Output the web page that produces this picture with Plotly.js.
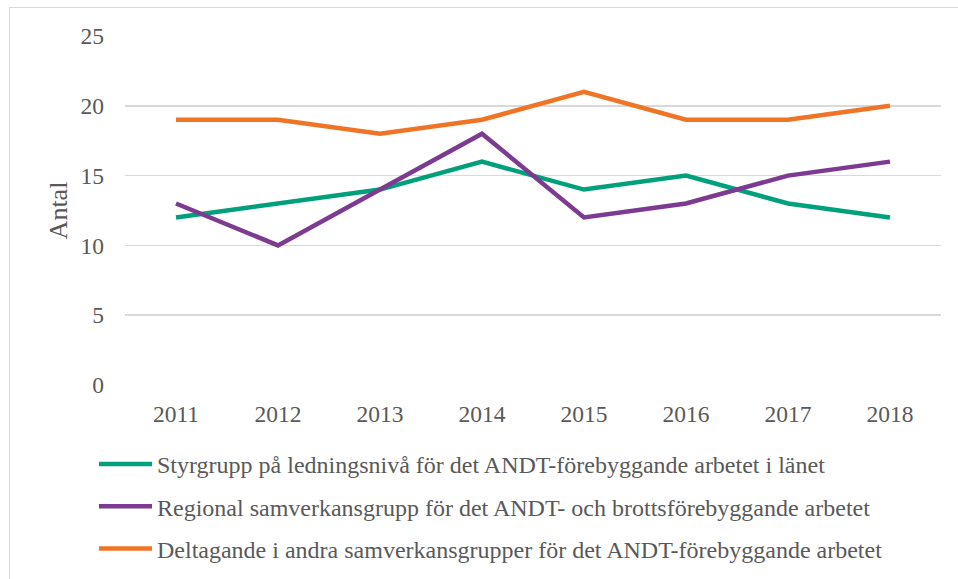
<!DOCTYPE html>
<html><head><meta charset="utf-8">
<script src="https://cdn.plot.ly/plotly-3.0.1.min.js"></script>
<style>
html,body{margin:0;padding:0;background:#fff;}
#wrap{position:relative;width:958px;height:579px;overflow:hidden;}
#frame{position:absolute;left:9px;top:7px;width:1000px;height:700px;border-left:1px solid #d9d9d9;border-top:1px solid #d9d9d9;pointer-events:none;}
#chart{position:absolute;left:0;top:0;width:958px;height:579px;}
</style></head>
<body><div id="wrap"><div id="chart"></div><div id="frame"></div></div>
<script>
const years = ['2011','2012','2013','2014','2015','2016','2017','2018'];
const styrgrupp = [12,13,14,16,14,15,13,12];
const regional = [13,10,14,18,12,13,15,16];
const deltagande = [19,19,18,19,21,19,19,20];
const names = [
  'Styrgrupp på ledningsnivå för det ANDT-förebyggande arbetet i länet',
  'Regional samverkansgrupp för det ANDT- och brottsförebyggande arbetet',
  'Deltagande i andra samverkansgrupper för det ANDT-förebyggande arbetet'
];
const colors = ['#00A07D','#7D3A91','#F07426'];
const series = [styrgrupp, regional, deltagande];
const fam = 'Liberation Serif, Times New Roman, serif';
const font = {family:fam, size:23.5, color:'#595959'};
const traces = series.map((s,i)=>({
  x: years, y: s, type:'scatter', mode:'lines', name:names[i], legendgroup:'g'+i,
  line:{color:colors[i], width:4.5}, hoverinfo:'skip'
}));
const layout = {
  width:958, height:579,
  margin:{l:125, r:17, t:36, b:194},
  paper_bgcolor:'#fff', plot_bgcolor:'#fff',
  font: font,
  showlegend:true,
  legend:{orientation:'v', xref:'paper', yref:'container', x:-0.038, xanchor:'left', y:0.2366, yanchor:'top', itemwidth:53,
    font:{family:fam, size:24, color:'#595959'}, tracegroupgap:8, bgcolor:'rgba(0,0,0,0)'},
  xaxis:{type:'category', range:[-0.5,7.5], showgrid:false, zeroline:false, showline:false,
    ticks:'', ticklabelstandoff:12, tickfont:font, automargin:false},
  yaxis:{range:[0,25], tickvals:[0,5,10,15,20,25], showgrid:true, gridcolor:'#d9d9d9', gridwidth:1.5,
    zeroline:false, showline:false, ticks:'', ticklabelstandoff:20, tickfont:font, automargin:false,
    title:{text:'Antal', font:{family:fam, size:26, color:'#595959'}, standoff:5}}
};
Plotly.newPlot('chart', traces, layout, {displayModeBar:false, staticPlot:true});
</script></body></html>
